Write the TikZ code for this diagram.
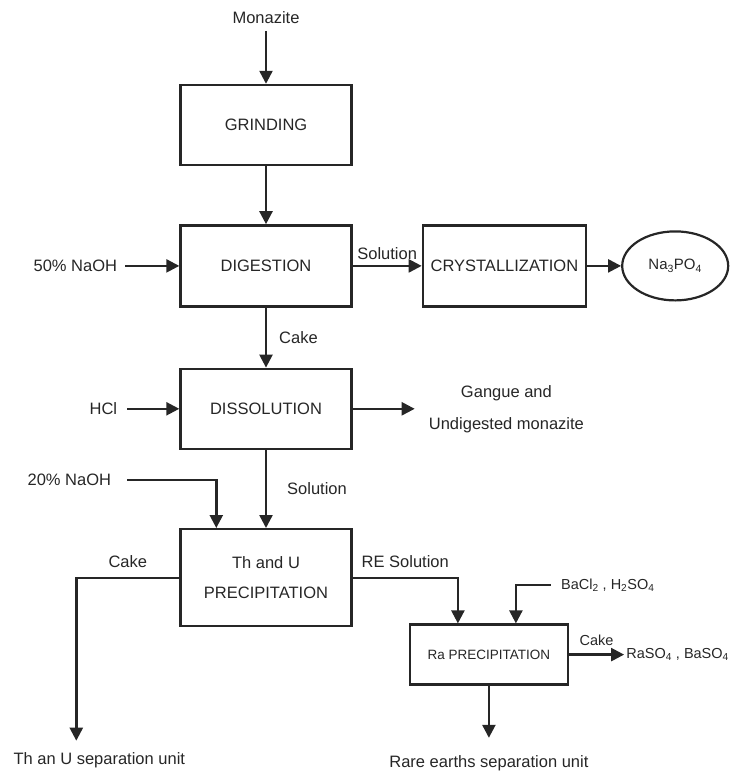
\documentclass[tikz,border=0pt]{standalone}
\usepackage{fontspec}
\setmainfont{Liberation Sans}
\usetikzlibrary{positioning,shapes.geometric,arrows.meta,calc}

\begin{document}
\begin{tikzpicture}[
      x=1pt, y=1pt, color=black!85,
      node distance=20pt,
      block/.style={rectangle, draw, line width=2.4pt, text centered, minimum width=171pt, minimum height=81pt, font=\fontsize{16.5}{30}\selectfont},
      small/.style={rectangle, draw, line width=2.4pt, text centered, minimum width=158pt, minimum height=60pt, font=\fontsize{13.5}{16}\selectfont},
      prod/.style={ellipse, draw, line width=2.2pt, minimum width=106pt, minimum height=69pt, font=\fontsize{15}{18}\selectfont},
      lbl/.style={font=\fontsize{16.5}{32}\selectfont, inner sep=2pt},
      chem/.style={font=\fontsize{14.5}{18}\selectfont, inner sep=2pt},
      line/.style={draw, line width=2.4pt, -{Triangle[length=13pt, width=13pt]}}
  ]
      \useasboundingbox (0,0) rectangle (733,-771);

      % Main column
      \node (grinding) [block, minimum height=80pt] at (266,-125) {GRINDING};
      \node (monazite) [lbl, above=58pt of grinding] {Monazite};
      \node (digestion) [block, below=58pt of grinding] {DIGESTION};
      \node (naoh50) [lbl, left=60pt of digestion] {50\% NaOH};
      \node (cryst) [block, minimum width=163pt, right=69pt of digestion] {CRYSTALLIZATION};
      \node (na3po4) [prod, right=34pt of cryst] {Na\textsubscript{3}PO\textsubscript{4}};

      \node (dissolution) [block, minimum height=80pt, below=60pt of digestion] {DISSOLUTION};
      \node (hcl) [lbl, left=60pt of dissolution] {HCl};
      \node (gangue) [lbl, align=center, right=74pt of dissolution] {Gangue and\\Undigested monazite};

      \node (thu) [block, minimum height=97pt, align=center, below=78pt of dissolution] {Th and U\\PRECIPITATION};
      \node (naoh20) [lbl, above left=40pt and 66pt of thu.north west] {20\% NaOH};
      \coordinate (thend) at ($(thu.west)+(-103,-163)$);
      \node (thsep) [lbl, below=10pt of thend, xshift=23pt] {Th an U separation unit};

      \node (ra) [small, below right=-4pt and 56pt of thu.south east] {Ra PRECIPITATION};
      \node (bacl) [chem, above right=30pt and 70pt of ra.north] {BaCl\textsubscript{2} , H\textsubscript{2}SO\textsubscript{4}};
      \node (raso4) [chem, right=55pt of ra] {RaSO\textsubscript{4} , BaSO\textsubscript{4}};
      \node (rare) [lbl, below=68pt of ra] {Rare earths separation unit};

      % Connections
      \path [line, shorten <=5pt] (monazite) -- (grinding);
      \path [line] (grinding) -- (digestion);
      \path [line, shorten <=6pt] (naoh50) -- (digestion);
      \path [line] (digestion) -- node[lbl, above=3pt] {Solution} (cryst);
      \path [line] (cryst) -- (na3po4);
      \path [line] (digestion) -- node[lbl, right=10pt] {Cake} (dissolution);
      \path [line, shorten <=8pt] (hcl) -- (dissolution);
      \path [line, shorten >=12pt] (dissolution) -- (gangue);
      \path [line] (dissolution) -- node[lbl, right=18pt] {Solution} (thu);
      \path [line, shorten <=14pt] (naoh20.east) -| ([xshift=37pt]thu.north west);
      \path [line] (thu.west) -| node[lbl, above=7pt, pos=0.25] {Cake} (thend);
      \path [line] (thu.east) -| node[lbl, above=7pt, pos=0.25] {RE Solution} ([xshift=-31pt]ra.north);
      \path [line, shorten <=8pt] (bacl.west) -| ([xshift=27pt]ra.north);
      \path [line] (ra) -- node[chem, above=6pt] {Cake} (raso4);
      \path [line, shorten >=16pt] (ra) -- (rare);
  \end{tikzpicture}
\end{document}
